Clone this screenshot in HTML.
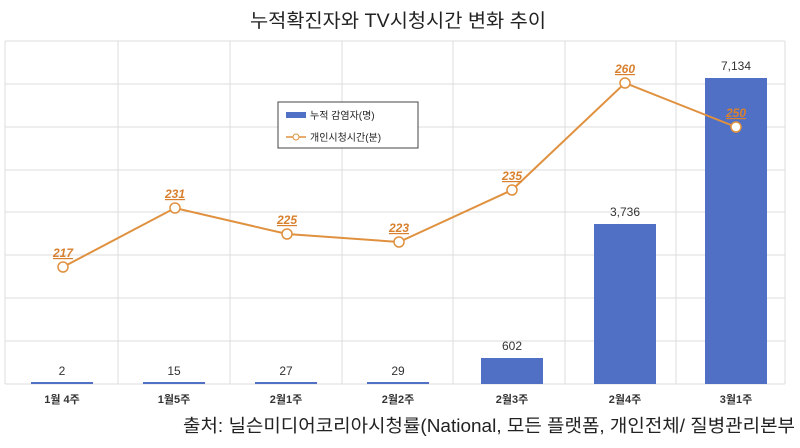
<!DOCTYPE html>
<html><head><meta charset="utf-8"><style>
body{margin:0;background:#fff;}
svg text{font-family:"Liberation Sans","Noto Sans CJK KR",sans-serif;}
</style></head><body>
<svg width="800" height="443" xmlns="http://www.w3.org/2000/svg">
<rect width="800" height="443" fill="#fff"/>
<text x="250" y="27" font-size="19" fill="#222" textLength="296" lengthAdjust="spacingAndGlyphs">누적확진자와 TV시청시간 변화 추이</text>
<g stroke="#dcdcdc" stroke-width="1">
<line x1="5" y1="41" x2="785" y2="41"/><line x1="5" y1="84" x2="785" y2="84"/><line x1="5" y1="127" x2="785" y2="127"/><line x1="5" y1="170" x2="785" y2="170"/><line x1="5" y1="212" x2="785" y2="212"/><line x1="5" y1="255" x2="785" y2="255"/><line x1="5" y1="298" x2="785" y2="298"/><line x1="5" y1="341" x2="785" y2="341"/><line x1="5" y1="384" x2="785" y2="384"/>
<line x1="5" y1="41" x2="5" y2="384"/><line x1="118" y1="41" x2="118" y2="384"/><line x1="230" y1="41" x2="230" y2="384"/><line x1="342" y1="41" x2="342" y2="384"/><line x1="453" y1="41" x2="453" y2="384"/><line x1="565" y1="41" x2="565" y2="384"/><line x1="676" y1="41" x2="676" y2="384"/><line x1="785" y1="41" x2="785" y2="384"/>
</g>
<g fill="#4f70c4">
<rect x="31" y="382" width="62" height="2"/><rect x="143" y="382" width="62" height="2"/><rect x="255" y="382" width="62" height="2"/><rect x="367" y="382" width="62" height="2"/>
<rect x="481" y="358" width="62" height="26"/><rect x="594" y="224" width="62" height="160"/><rect x="705" y="78" width="62" height="306"/>
</g>
<g font-size="12" fill="#333" text-anchor="middle">
<text x="62" y="375">2</text><text x="174" y="375">15</text><text x="286" y="375">27</text><text x="398" y="375">29</text>
<text x="512" y="350">602</text><text x="625" y="216">3,736</text><text x="736" y="70">7,134</text>
</g>
<polyline points="63,267 175,208 287,234 399,242 512,190 625,83 736,127" fill="none" stroke="#e0913f" stroke-width="2"/>
<g fill="#fff" stroke="#e0913f" stroke-width="1.5">
<circle cx="63" cy="267" r="5"/><circle cx="175" cy="208" r="5"/><circle cx="287" cy="234" r="5"/><circle cx="399" cy="242" r="5"/><circle cx="512" cy="190" r="5"/><circle cx="625" cy="83" r="5"/><circle cx="736" cy="127" r="5"/>
</g>
<g font-size="12" font-weight="bold" font-style="italic" fill="#d8802e" text-anchor="middle" text-decoration="underline">
<text x="63" y="257">217</text><text x="175" y="198">231</text><text x="287" y="224">225</text><text x="399" y="232">223</text><text x="512" y="180">235</text><text x="625" y="73">260</text><text x="736" y="117">250</text>
</g>
<rect x="278" y="102" width="140" height="46" fill="#fff" stroke="#444" stroke-width="1"/>
<rect x="286" y="112" width="20" height="6" fill="#4f70c4"/>
<text x="310" y="119" font-size="10" fill="#222">누적 감염자(명)</text>
<line x1="286" y1="137" x2="306" y2="137" stroke="#e0913f" stroke-width="1.5"/>
<circle cx="296" cy="137" r="3" fill="#fff" stroke="#e0913f"/>
<text x="310" y="141" font-size="10" fill="#222">개인시청시간(분)</text>
<g font-size="11" font-weight="bold" fill="#333" text-anchor="middle">
<text x="62" y="403">1월 4주</text><text x="174" y="403">1월5주</text><text x="286" y="403">2월1주</text><text x="398" y="403">2월2주</text><text x="512" y="403">2월3주</text><text x="625" y="403">2월4주</text><text x="736" y="403">3월1주</text>
</g>
<text x="183" y="432" font-size="18" fill="#222" textLength="612" lengthAdjust="spacingAndGlyphs">출처: 닐슨미디어코리아시청률(National, 모든 플랫폼, 개인전체/ 질병관리본부</text>
</svg>
</body></html>
